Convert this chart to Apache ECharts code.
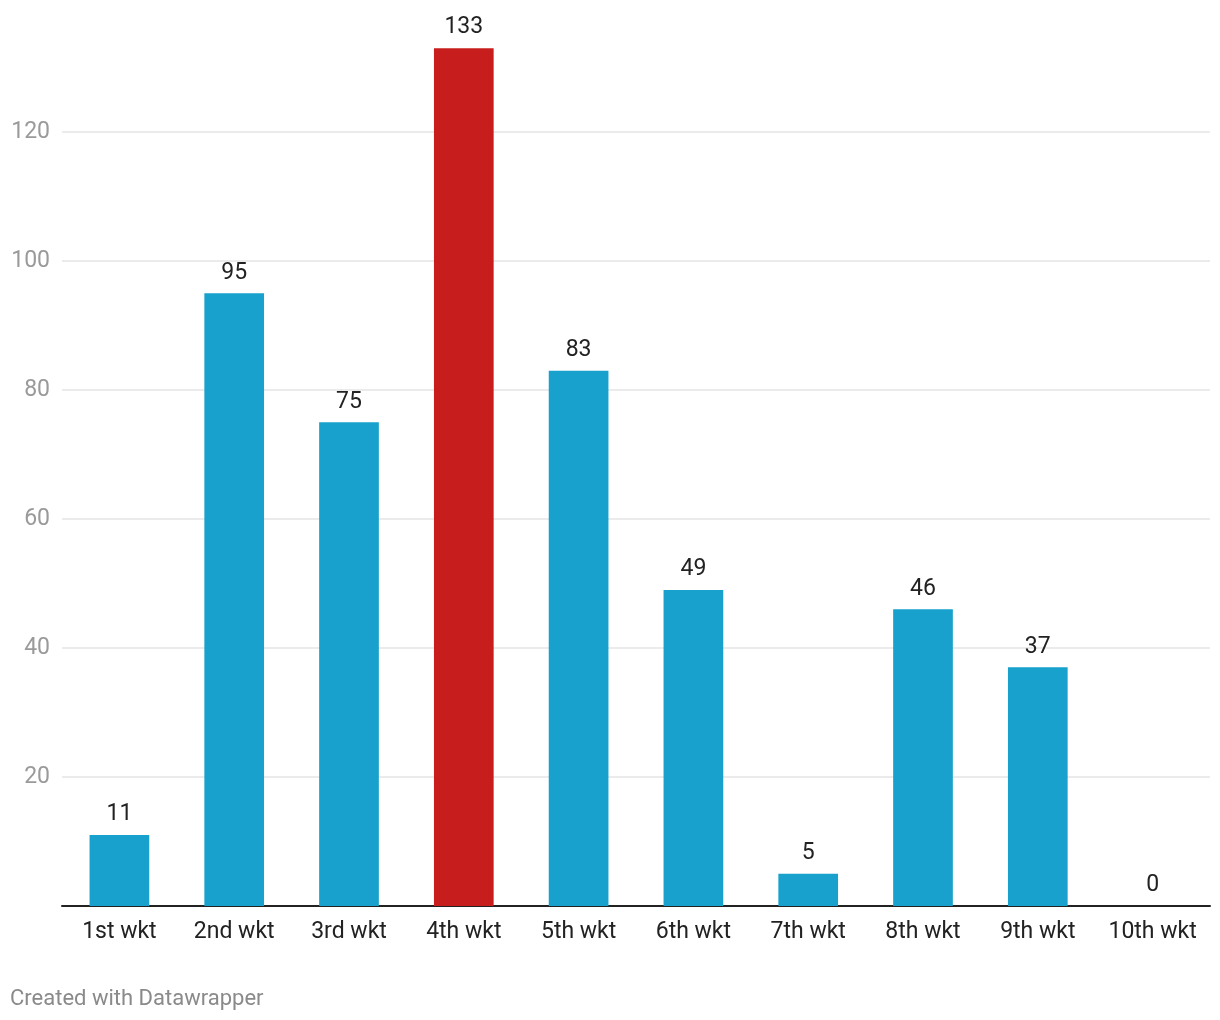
<!DOCTYPE html>
<html>
<head>
<meta charset="utf-8">
<script src="https://cdn.jsdelivr.net/npm/echarts@6/dist/echarts.min.js"></script>
<style>
html,body{margin:0;padding:0;background:#fff;}
#chart{width:1220px;height:1020px;}
</style>
</head>
<body>
<div id="chart"></div>
<script>
const categories = ['1st wkt','2nd wkt','3rd wkt','4th wkt','5th wkt','6th wkt','7th wkt','8th wkt','9th wkt','10th wkt'];
const values = [11, 95, 75, 133, 83, 49, 5, 46, 37, 0];
const highlightIndex = 3;
const yTicks = [0, 20, 40, 60, 80, 100, 120, 140];

const chart = echarts.init(document.getElementById('chart'), null, {renderer:'canvas'});
const font = 'Roboto, "Noto Sans", sans-serif';
chart.setOption({
  animation: false,
  textStyle: {fontFamily: font},
  grid: {left: 62, right: 10, top: 3, bottom: 114, containLabel: false},
  xAxis: {
    type: 'category',
    data: categories,
    axisLine: {show: true, lineStyle: {color: '#222', width: 2}},
    axisTick: {show: false},
    axisLabel: {color: '#222', fontSize: 23, margin: 15, fontFamily: font}
  },
  yAxis: {
    type: 'value',
    min: 0,
    max: yTicks[yTicks.length - 1],
    interval: 20,
    axisLine: {show: false},
    axisTick: {show: false},
    axisLabel: {
      color: '#9a9a9a', fontSize: 23, margin: 12, fontFamily: font,
      formatter: v => (v === 0 || v === 140) ? '' : String(v)
    },
    splitLine: {lineStyle: {color: ['transparent','#e4e4e4','#e4e4e4','#e4e4e4','#e4e4e4','#e4e4e4','#e4e4e4','transparent'], width: 1.5}}
  },
  series: [{
    type: 'bar',
    barWidth: '52%',
    data: values.map((v, i) => ({value: v, itemStyle: {color: i === highlightIndex ? '#c71e1d' : '#18a1cd'}})),
    label: {show: true, position: 'top', distance: 9, color: '#222', fontSize: 23, fontFamily: font}
  }],
  graphic: [{
    type: 'text', left: 10, top: 988,
    style: {text: 'Created with Datawrapper', fill: '#8a8a8a', fontSize: 22, fontFamily: font}
  }]
});
</script>
</body>
</html>
